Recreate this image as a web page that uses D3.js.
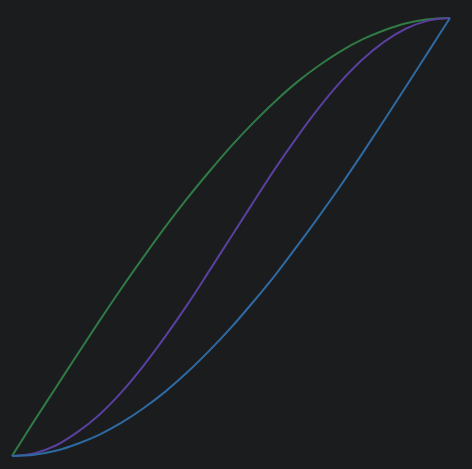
<!DOCTYPE html>
<html lang="en">
<head>
<meta charset="utf-8">
<title>Sine easing curves</title>
<script src="https://cdn.jsdelivr.net/npm/d3@7"></script>
<style>
html, body { margin: 0; padding: 0; background: #1b1c1e; }
svg { display: block; }
.curve { fill: none; stroke-width: 2; }
</style>
</head>
<body>
<script>

// progress steps (normalised time 0..1)
var steps = [0, 0.05, 0.1, 0.15, 0.2, 0.25, 0.3, 0.35, 0.4, 0.45, 0.5,
             0.55, 0.6, 0.65, 0.7, 0.75, 0.8, 0.85, 0.9, 0.95, 1];

// values for each curve
var easeOutValues = [0, 0.079, 0.156, 0.233, 0.309, 0.383, 0.454, 0.523, 0.588, 0.649, 0.707,
                     0.760, 0.809, 0.853, 0.891, 0.924, 0.951, 0.972, 0.988, 0.997, 1];
var easeInOutValues = [0, 0.006, 0.024, 0.055, 0.095, 0.146, 0.206, 0.273, 0.345, 0.422, 0.5,
                       0.578, 0.655, 0.727, 0.794, 0.854, 0.905, 0.946, 0.976, 0.994, 1];
var easeInValues = [0, 0.003, 0.012, 0.028, 0.049, 0.076, 0.109, 0.147, 0.191, 0.240, 0.293,
                    0.351, 0.412, 0.478, 0.546, 0.617, 0.691, 0.767, 0.844, 0.922, 1];

var series = [
  { name: "out", values: easeOutValues, color: "#2f7a45" },
  { name: "inOut", values: easeInOutValues, color: "#5a3f9e" },
  { name: "in", values: easeInValues, color: "#2e6aa2" }
];

var width = 472, height = 469;

var x = d3.scaleLinear().domain([0, 1]).range([12, 450]);
var y = d3.scaleLinear().domain([0, 1]).range([456, 18]);

var svg = d3.select("body")
  .append("svg")
  .attr("width", width)
  .attr("height", height);

var line = d3.line()
  .x(function(d) { return x(d[0]); })
  .y(function(d) { return y(d[1]); })
  .curve(d3.curveMonotoneX);

svg.selectAll(".curve")
  .data(series)
  .enter()
  .append("path")
  .attr("class", "curve")
  .attr("stroke", function(d) { return d.color; })
  .attr("d", function(d) {
    return line(steps.map(function(t, i) { return [t, d.values[i]]; }));
  });

</script>
</body>
</html>
